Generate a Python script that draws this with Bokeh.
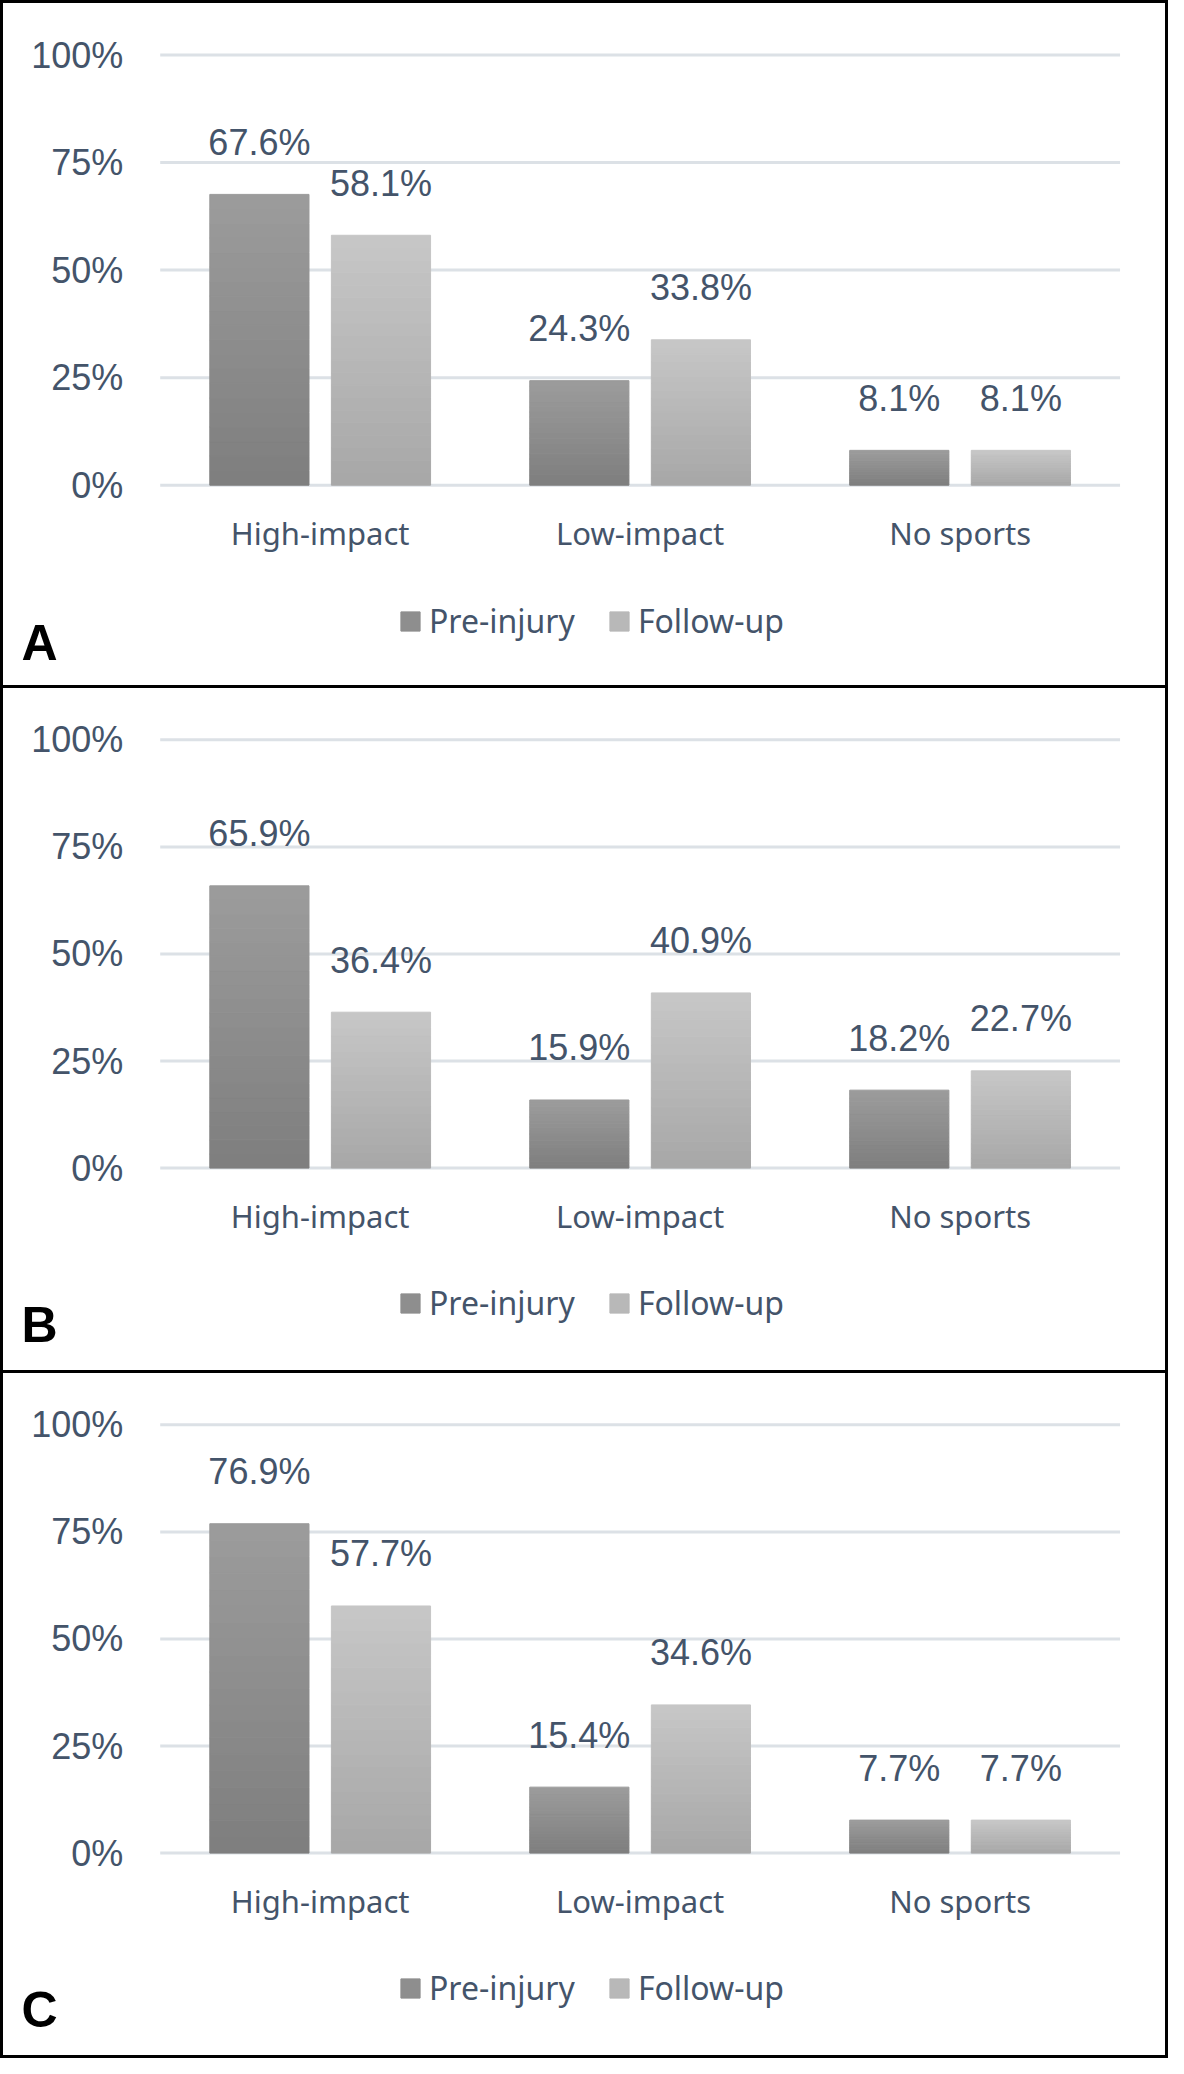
from bokeh.plotting import figure
from bokeh.models import (ColumnDataSource, Range1d, FixedTicker, LinearAxis,
                          Legend, LegendItem, Label)
from bokeh.layouts import column
from bokeh.embed import file_html
from bokeh.resources import INLINE
from bokeh.core.properties import value

# ---------------- data ----------------
categories = ["High-impact", "Low-impact", "No sports"]
series_names = ["Pre-injury", "Follow-up"]
panel_labels = ["A", "B", "C"]

pre_injury_A = [67.6, 24.3, 8.1]
follow_up_A = [58.1, 33.8, 8.1]
pre_injury_B = [65.9, 15.9, 18.2]
follow_up_B = [36.4, 40.9, 22.7]
pre_injury_C = [76.9, 15.4, 7.7]
follow_up_C = [57.7, 34.6, 7.7]

y_ticks = [0, 25, 50, 75, 100]
y_tick_labels = ["0%", "25%", "50%", "75%", "100%"]

# ---------------- style ----------------
TEXT = "#44546A"
GRID = "#DCE1E6"
PRE_BOT, PRE_TOP = "#7e7e7e", "#9c9c9c"
FOL_BOT, FOL_TOP = "#a7a7a7", "#c7c7c7"
N_SEG = 20
BAR_W = 0.31
OFFSET = 0.19
W = 1168            # host width incl. 3px side borders -> canvas 1162
CANVAS_H = 682      # canvas height of each panel
BRD = "3px solid black"

# frame == whole canvas; ranges chosen so the category area sits where the
# reference puts it (left margin 156px, right 51px, 100% at 51px, 0% at 477px)
X_RANGE = (-0.4898, len(categories) + 0.1608)
Y_RANGE = (-47.96, 111.98)


def lerp(c0, c1, t):
    a = [int(c0[i:i + 2], 16) for i in (1, 3, 5)]
    b = [int(c1[i:i + 2], 16) for i in (1, 3, 5)]
    return "#%02x%02x%02x" % tuple(int(round(a[j] + (b[j] - a[j]) * t)) for j in range(3))


def make_panel(label, pre, fol, first):
    if first:
        styles = {"border": BRD}
        h = CANVAS_H + 6
    else:
        styles = {"border-left": BRD, "border-right": BRD, "border-bottom": BRD}
        h = CANVAS_H + 3
    p = figure(width=W, height=h,
               x_range=Range1d(*X_RANGE), y_range=Range1d(*Y_RANGE),
               x_axis_type=None, y_axis_type=None,
               output_backend="svg", toolbar_location=None,
               min_border=0, min_border_left=0, min_border_right=0,
               min_border_top=0, min_border_bottom=0,
               background_fill_color="white", border_fill_color="white",
               outline_line_color=None, styles=styles)
    p.xgrid.grid_line_color = None
    p.ygrid.grid_line_color = None

    n = len(categories)
    centers = [i + 0.5 for i in range(n)]

    # horizontal gridlines over the category area
    p.segment(x0=[0] * len(y_ticks), x1=[n] * len(y_ticks), y0=y_ticks, y1=y_ticks,
              line_color=GRID, line_width=3)

    bar_renderers = []
    for vals, off, cb, ct in ((pre, -OFFSET, PRE_BOT, PRE_TOP),
                              (fol, OFFSET, FOL_BOT, FOL_TOP)):
        xs, bots, tops, cols = [], [], [], []
        for c, v in zip(centers, vals):
            for k in range(N_SEG):
                xs.append(c + off)
                bots.append(v * k / N_SEG)
                tops.append(v * (k + 1) / N_SEG)
                cols.append(lerp(cb, ct, (k + 0.5) / N_SEG))
        src = ColumnDataSource(dict(x=xs, bottom=bots, top=tops, color=cols))
        r = p.vbar(x="x", bottom="bottom", top="top", width=BAR_W,
                   fill_color="color", line_color="color", line_width=1, source=src)
        bar_renderers.append(r)

        lsrc = ColumnDataSource(dict(x=[c + off for c in centers], y=vals,
                                     t=["%.1f%%" % v for v in vals]))
        p.text(x="x", y="y", text="t", source=lsrc,
               text_align="center", text_baseline="alphabetic", y_offset=-52,
               text_font=value("Liberation Sans"), text_font_size="36px",
               text_color=TEXT)

    # y axis at the left edge of the category area
    yax = LinearAxis(fixed_location=0, ticker=FixedTicker(ticks=y_ticks),
                     major_label_overrides={t: l for t, l in zip(y_ticks, y_tick_labels)})
    yax.axis_line_color = None
    yax.major_tick_line_color = None
    yax.minor_tick_line_color = None
    yax.major_tick_out = 0
    yax.major_tick_in = 0
    yax.major_label_standoff = 37
    yax.major_label_text_font = "Liberation Sans"
    yax.major_label_text_font_size = "36px"
    yax.major_label_text_color = TEXT
    p.add_layout(yax, "left")

    # category axis at 0%
    xax = LinearAxis(fixed_location=0, ticker=FixedTicker(ticks=centers),
                     major_label_overrides={c: name for c, name in zip(centers, categories)})
    xax.axis_line_color = None
    xax.major_tick_line_color = None
    xax.minor_tick_line_color = None
    xax.major_tick_out = 0
    xax.major_tick_in = 0
    xax.major_label_standoff = 27
    xax.major_label_text_font = "Noto Sans"
    xax.major_label_text_font_size = "31px"
    xax.major_label_text_color = TEXT
    p.add_layout(xax, "below")

    legend = Legend(items=[LegendItem(label=series_names[0], renderers=[bar_renderers[0]],
                                      index=N_SEG // 2),
                           LegendItem(label=series_names[1], renderers=[bar_renderers[1]],
                                      index=N_SEG // 2)],
                    orientation="horizontal", location=(395, 49),
                    glyph_width=24, glyph_height=24, label_standoff=7,
                    spacing=32, padding=0, margin=0,
                    border_line_color=None, background_fill_alpha=0,
                    label_text_font="Noto Sans", label_text_font_size="32px",
                    label_text_color=TEXT)
    p.add_layout(legend)

    p.add_layout(Label(x=18, y=49, x_units="screen", y_units="screen",
                       text=label, text_font="Liberation Sans",
                       text_font_style="bold", text_font_size="50px",
                       text_color="black", text_baseline="alphabetic"))
    return p


pA = make_panel(panel_labels[0], pre_injury_A, follow_up_A, True)
pB = make_panel(panel_labels[1], pre_injury_B, follow_up_B, False)
pC = make_panel(panel_labels[2], pre_injury_C, follow_up_C, False)

layout = column(pA, pB, pC, spacing=0)
open("out.html", "w").write(file_html(layout, INLINE))
